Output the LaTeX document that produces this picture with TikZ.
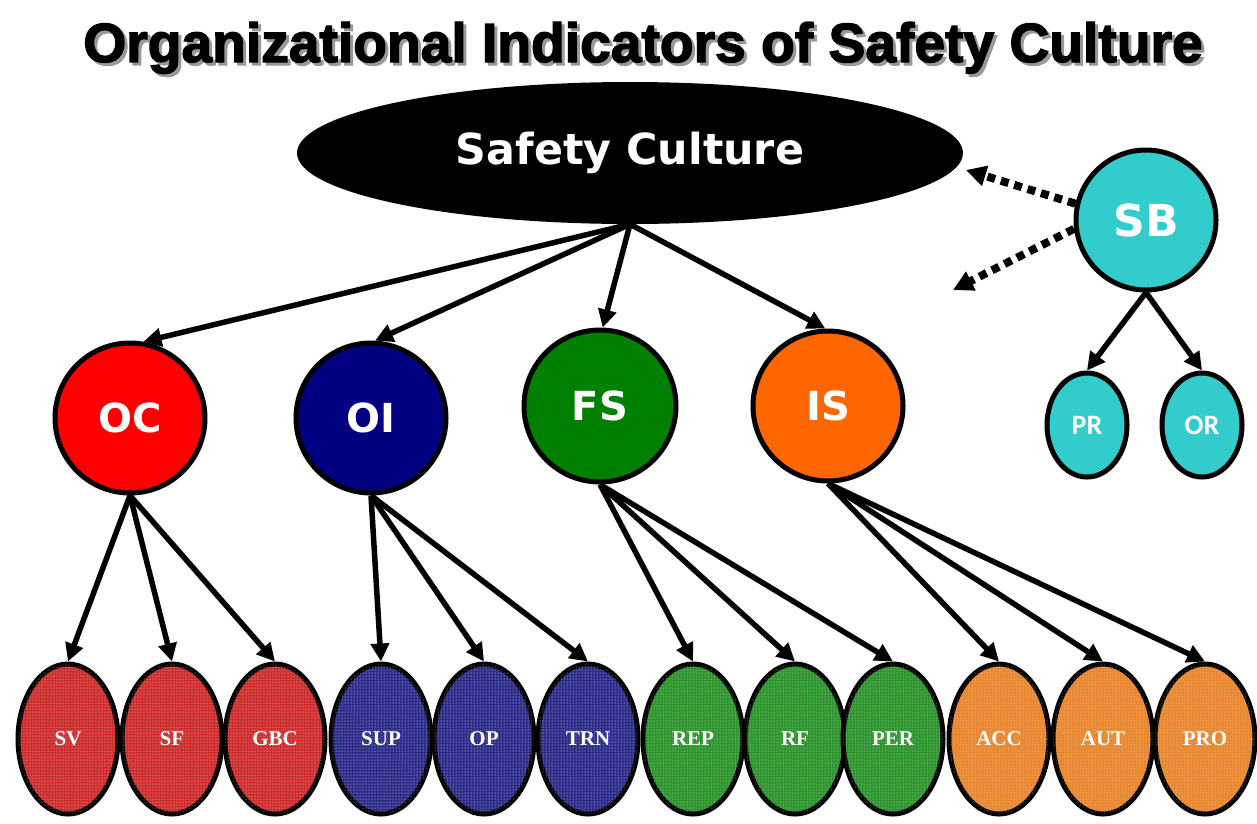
\documentclass[tikz,border=0pt]{standalone}
\usepackage{fontspec}
\setmainfont{Liberation Serif}
\newfontfamily\titlefont[FakeBold=2.5]{Liberation Sans}
\newfontfamily\dejafont{DejaVu Sans}
\newfontfamily\carfont{Carlito}
\usetikzlibrary{shapes.geometric,arrows.meta,patterns}
\definecolor{ocred}{RGB}{255,0,0}
\definecolor{oinavy}{RGB}{0,0,128}
\definecolor{fsgreen}{RGB}{0,128,0}
\definecolor{isorange}{RGB}{255,102,0}
\definecolor{sbcyan}{RGB}{51,204,204}
\definecolor{lred}{RGB}{210,45,45}
\definecolor{lblue}{RGB}{45,45,140}
\definecolor{lgreen}{RGB}{45,150,45}
\definecolor{lorange}{RGB}{235,135,45}
\begin{document}
\begin{tikzpicture}[x=1pt,y=-1pt,
  bigcirc/.style={circle,draw=black,line width=5pt,minimum size=150pt,inner sep=0pt,
    text=white,font=\dejafont\bfseries\fontsize{40}{44}\selectfont},
  leaf/.style={ellipse,draw=black,line width=5pt,minimum width=100pt,minimum height=150pt,inner sep=0pt,
    text=white,font=\bfseries\fontsize{21}{23}\selectfont,
    postaction={pattern=dots,pattern color=white!70!gray}},
  sbleaf/.style={ellipse,draw=black,line width=5pt,minimum width=80pt,minimum height=104pt,inner sep=0pt,
    fill=sbcyan,text=white,font=\carfont\bfseries\fontsize{28}{30}\selectfont},
  arr/.style={line width=5.5pt,-{Triangle[length=18pt,width=18pt]}},
  dotarr/.style={line width=8pt,dash pattern=on 8pt off 6pt,-{Triangle[length=20pt,width=20pt]}}
]
\useasboundingbox (0,0) rectangle (1257,823);
\fill[white] (0,0) rectangle (1257,823);
% title
\node[anchor=base,text=black!40,inner sep=0pt] (titleshadow) at (646,65)
  {\resizebox{1119pt}{40pt}{\titlefont\bfseries Organizational Indicators of Safety Culture}};
\node[anchor=base,text=black,inner sep=0pt] (title) at (643,62)
  {\resizebox{1119pt}{40pt}{\titlefont\bfseries Organizational Indicators of Safety Culture}};
% safety culture
\node[ellipse,fill=black,minimum width=666pt,minimum height=142pt,inner sep=0pt,
  text=white] (sc) at (630,153)
  {\resizebox{348pt}{!}{\dejafont\bfseries Safety Culture}};
% SB
\node[bigcirc,fill=sbcyan,minimum size=140pt,font=\dejafont\bfseries\fontsize{44}{48}\selectfont] (sb) at (1146,220) {SB};
\node[sbleaf] (pr) at (1087,425) {PR};
\node[sbleaf] (or) at (1202,425) {OR};
\coordinate (t1) at (966,170);
\coordinate (t2) at (953,290);
\draw[dotarr] (sb.167) -- (t1);
\draw[dotarr] (sb.187) -- (t2);
\draw[arr] (sb.south) -- (pr.north);
\draw[arr] (sb.south) -- (or.north);
% level 2
\node[bigcirc,fill=ocred] (oc) at (130,418) {OC};
\node[bigcirc,fill=oinavy] (oi) at (371,418) {OI};
\node[bigcirc,fill=fsgreen,minimum size=152pt] (fs) at (600,406) {FS};
\node[bigcirc,fill=isorange] (is) at (828,406) {IS};
\draw[arr] (sc.south) -- (oc.80);
\draw[arr] (sc.south) -- (oi.87);
\draw[arr] (sc.south) -- (fs.88);
\draw[arr] (sc.south) -- (is.92);
% leaves
\node[leaf,fill=lred] (sv) at (68,739) {SV};
\node[leaf,fill=lred] (sf) at (172,739) {SF};
\node[leaf,fill=lred] (gbc) at (275,739) {GBC};
\node[leaf,fill=lblue] (sup) at (381,739) {SUP};
\node[leaf,fill=lblue] (op) at (484,739) {OP};
\node[leaf,fill=lblue] (trn) at (588,739) {TRN};
\node[leaf,fill=lgreen] (rep) at (693,739) {REP};
\node[leaf,fill=lgreen] (rf) at (795,739) {RF};
\node[leaf,fill=lgreen] (per) at (893,739) {PER};
\node[leaf,fill=lorange] (acc) at (999,739) {ACC};
\node[leaf,fill=lorange] (aut) at (1103,739) {AUT};
\node[leaf,fill=lorange] (pro) at (1205,739) {PRO};
\foreach \c in {sv,sf,gbc}{\draw[arr] (oc.south) -- (\c.north);}
\foreach \c in {sup,op,trn}{\draw[arr] (oi.south) -- (\c.north);}
\foreach \c in {rep,rf,per}{\draw[arr] (fs.south) -- (\c.north);}
\foreach \c in {acc,aut,pro}{\draw[arr] (is.south) -- (\c.north);}
\end{tikzpicture}
\end{document}
